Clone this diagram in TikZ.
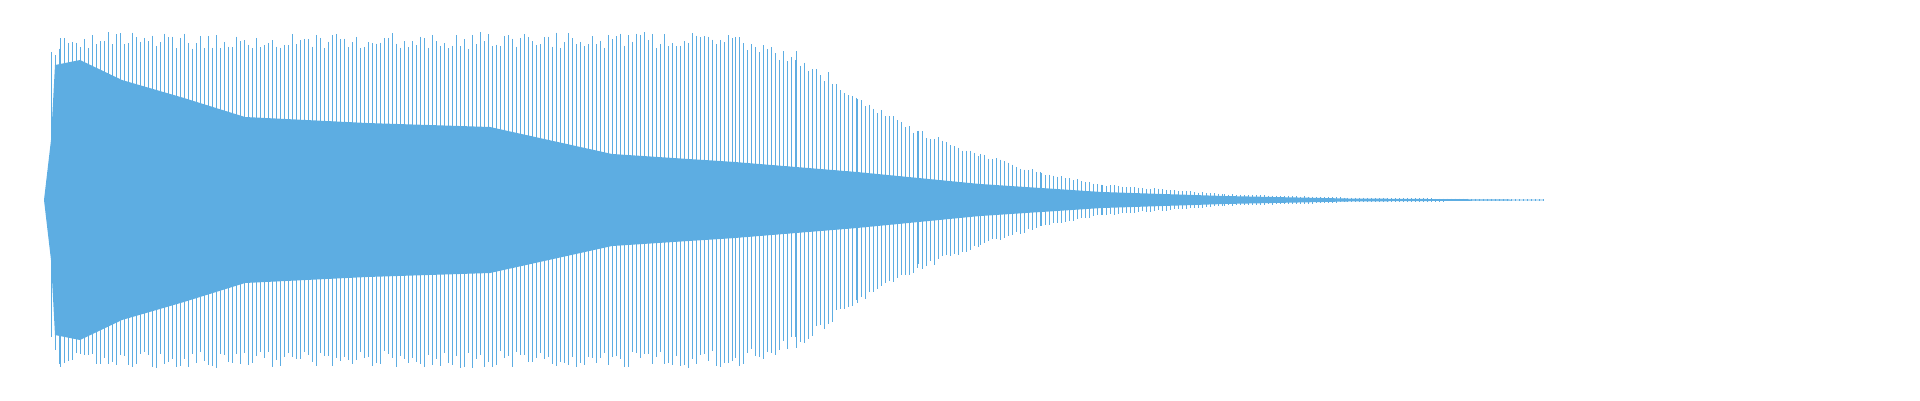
\documentclass[tikz,border=0pt]{standalone}
\definecolor{wave}{HTML}{5DADE2}
\begin{document}
\begin{tikzpicture}[x=1pt,y=-1pt,spike/.style={draw=wave,line width=0.8pt}]
\useasboundingbox (0,0) rectangle (1920,400);
\pgfmathsetseed{7}
% dense core
\fill[wave] (44,200) -- (51,140) -- (55,65) -- (80,60) -- (122,80) -- (184,98) -- (245,117) -- (367,123) -- (490,127) -- (612,154) -- (735,162) -- (857,172) -- (980,184) -- (1102,192) -- (1224,196) -- (1347,198.5) -- (1543,199.7)
 -- (1543,200.3) -- (1347,201.5) -- (1224,204) -- (1102,208) -- (980,216) -- (857,228) -- (735,238) -- (612,246) -- (490,273) -- (367,277) -- (245,283) -- (184,302) -- (122,320) -- (80,340) -- (55,335) -- (51,260) -- cycle;
% spikes
\foreach \xa/\aa/\xb/\ab in {51/150/60/168, 60/168/735/168, 735/168/796/150, 796/150/857/108, 857/108/918/71, 918/71/980/47, 980/47/1041/28, 1041/28/1102/16, 1102/16/1224/6, 1224/6/1347/2.5, 1347/2.5/1543/0.6}{
  \pgfmathtruncatemacro\n{(\xb-\xa)/4}
  \foreach \k in {0,...,\n}{
    \pgfmathsetmacro\u{\xa+4*\k}
    \pgfmathsetmacro\A{\aa+(\ab-\aa)*(\u-\xa)/(\xb-\xa)}
    \pgfmathsetmacro\ra{\A*(0.9+0.1*rnd)}
    \pgfmathsetmacro\rb{\A*(0.9+0.1*rnd)}
    \draw[spike] (\u,200-\ra) -- (\u,200+\rb);
  }
}
\end{tikzpicture}
\end{document}
